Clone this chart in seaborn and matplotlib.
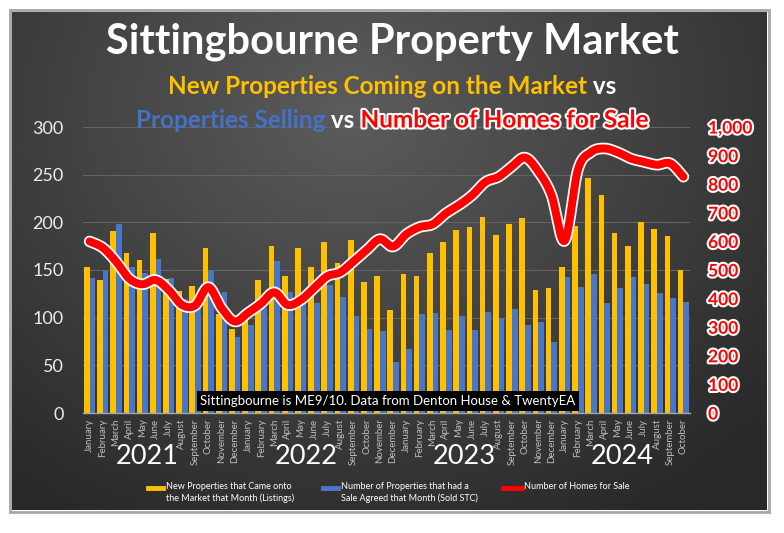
import numpy as np
import pandas as pd
import matplotlib
matplotlib.use("Agg")
import matplotlib.pyplot as plt
import matplotlib.patheffects as pe
import matplotlib.transforms as mtrans
from matplotlib.lines import Line2D
from matplotlib.patches import Rectangle
from matplotlib.offsetbox import TextArea, HPacker, AnnotationBbox
import seaborn as sns

# --- data (Jan 2021 .. Oct 2024) ---
month_names = ["January", "February", "March", "April", "May", "June", "July",
               "August", "September", "October", "November", "December"]
year_labels = ["2021", "2022", "2023", "2024"]

listings = [153, 140, 191, 168, 160, 189, 141, 128, 133, 173, 104, 88,
            105, 140, 175, 144, 173, 153, 179, 157, 181, 137, 144, 108,
            146, 144, 168, 179, 192, 195, 206, 187, 198, 205, 129, 131,
            153, 196, 247, 229, 189, 175, 200, 193, 186, 150]
sold_stc = [142, 149, 198, 153, 147, 162, 142, 120, 110, 150, 127, 80,
            92, 110, 159, 127, 117, 115, 134, 122, 102, 88, 86, 54,
            67, 104, 105, 87, 102, 87, 106, 100, 109, 92, 95, 74,
            143, 132, 146, 115, 131, 143, 135, 126, 121, 116]
homes_for_sale = [600, 578, 530, 470, 450, 465, 430, 378, 376, 440, 367, 320,
                  350, 383, 422, 378, 395, 436, 478, 492, 530, 570, 608, 582,
                  625, 650, 660, 698, 727, 762, 808, 826, 862, 893, 845, 762,
                  602, 850, 912, 925, 912, 890, 878, 868, 873, 826]

lbl_listings = "New Properties that Came onto\nthe Market that Month (Listings)"
lbl_sold = "Number of Properties that had a\nSale Agreed that Month (Sold STC)"
lbl_homes = "Number of Homes for Sale"

GOLD = "#FFC000"
BLUE = "#4A76C9"
RED = "#FF0000"

month_labels = (month_names * 4)[:len(listings)]
n = len(listings)

df = pd.DataFrame({"idx": range(n), "Listings": listings, "Sold": sold_stc})
long_df = df.melt(id_vars="idx", var_name="series", value_name="value")


def smooth(xs, ys, steps=24):
    # Excel style smoothed line (uniform Catmull-Rom through the points)
    x = np.asarray(xs, float)
    y = np.asarray(ys, float)
    px = np.concatenate([[x[0]], x, [x[-1]]])
    py = np.concatenate([[y[0]], y, [y[-1]]])
    out_x, out_y = [], []
    t = np.linspace(0, 1, steps, endpoint=False)
    for i in range(1, len(px) - 2):
        for p, out in ((px, out_x), (py, out_y)):
            p0, p1, p2, p3 = p[i - 1], p[i], p[i + 1], p[i + 2]
            out.extend(0.5 * (2 * p1 + (-p0 + p2) * t
                              + (2 * p0 - 5 * p1 + 4 * p2 - p3) * t ** 2
                              + (-p0 + 3 * p1 - 3 * p2 + p3) * t ** 3))
    out_x.append(x[-1])
    out_y.append(y[-1])
    return np.array(out_x), np.array(out_y)


plt.rcParams["font.family"] = ["Lato", "DejaVu Sans"]

W, H = 784, 533
fig = plt.figure(figsize=(W / 100, H / 100), dpi=100)
fig.patch.set_facecolor("white")

# dark gradient panel
bg = fig.add_axes([12 / W, 1 - 510 / H, (767 - 12) / W, (510 - 12) / H])
gy, gx = np.mgrid[0:1:300j, 0:1:460j]
d = np.clip(np.sqrt(((gx - 0.45) / 0.75) ** 2 + ((gy - 0.2) / 0.95) ** 2), 0, 1)
c_in = np.array([0x5c, 0x5c, 0x5c]) / 255
c_out = np.array([0x28, 0x28, 0x28]) / 255
img = c_in[None, None, :] * (1 - d[..., None]) + c_out[None, None, :] * d[..., None]
bg.imshow(img, extent=[0, 1, 0, 1], aspect="auto", origin="upper")
bg.axis("off")
fig.add_artist(Rectangle((10 / W, 1 - 512 / H), (769 - 10) / W, (512 - 10) / H,
                         fill=False, edgecolor="#a6a6a6", lw=2,
                         transform=fig.transFigure))

# main axes
ax = fig.add_axes([83 / W, 1 - 413 / H, (690 - 83) / W, (413 - 127) / H])
ax.set_facecolor("none")
sns.barplot(data=long_df, x="idx", y="value", hue="series",
            palette=[GOLD, BLUE], width=0.86, saturation=1,
            legend=False, ax=ax)
ax.set_ylim(0, 300)
ax.set_yticks(range(0, 301, 50))
ax.yaxis.grid(True, color="#636363", lw=0.8)
ax.set_axisbelow(True)
for s in ["top", "left", "right"]:
    ax.spines[s].set_visible(False)
ax.spines["bottom"].set_color("#a6a6a6")
ax.spines["bottom"].set_linewidth(1)
ax.set_xlabel("")
ax.set_ylabel("")
ax.set_xticks(range(n))
ax.set_xticklabels(month_labels, rotation=90, fontsize=7, color="#bfbfbf")
ax.tick_params(axis="x", length=0, pad=4)
ax.tick_params(axis="y", length=0, pad=14, labelsize=13, labelcolor="#ececec")

ax2 = ax.twinx()
sx, sy = smooth(range(n), homes_for_sale)
ax2.plot(sx, sy, color=RED, lw=5.8, solid_capstyle="round",
         path_effects=[pe.Stroke(linewidth=8.3, foreground="white"), pe.Normal()])
ax2.set_ylim(0, 1000)
ax2.set_yticks(range(0, 1001, 100))
ax2.set_yticklabels([f"{v:,}" for v in range(0, 1001, 100)])
ax2.tick_params(axis="y", length=0, pad=13, labelsize=12.5, labelcolor=RED)
for t in ax2.get_yticklabels():
    t.set_fontweight("bold")
    t.set_path_effects([pe.withStroke(linewidth=3, foreground="white")])
for s in ax2.spines.values():
    s.set_visible(False)
ax.set_xlim(-0.5, n - 0.5)

# year labels under the month names
yr_tr = mtrans.blended_transform_factory(ax.transData, fig.transFigure)
for k, yr in enumerate(year_labels):
    ax.text(4.4 + 12 * k, 1 - 456 / H, yr, transform=yr_tr, ha="center",
            va="center", fontsize=19.5, color="white")

# source note
ax.text(0.502, 0.042, "Sittingbourne is ME9/10. Data from Denton House & TwentyEA",
        transform=ax.transAxes, ha="center", va="center", fontsize=9.5,
        color="white", zorder=5,
        bbox=dict(facecolor="black", edgecolor="none", pad=2.6))

# titles
fig.text(0.5, 1 - 42 / H, "Sittingbourne Property Market", ha="center",
         va="center", fontsize=30, fontweight="bold", color="white")


def colored_line(parts, y):
    boxes = []
    for txt, col, outline in parts:
        props = dict(color=col, fontsize=17.5, fontweight="bold")
        if outline:
            props["path_effects"] = [pe.withStroke(linewidth=3, foreground="white")]
        boxes.append(TextArea(txt, textprops=props))
    pack = HPacker(children=boxes, align="baseline", pad=0, sep=0)
    ab = AnnotationBbox(pack, (0.5, y), xycoords="figure fraction",
                        frameon=False, box_alignment=(0.5, 0.5))
    fig.add_artist(ab)


colored_line([("New Properties Coming on the Market", GOLD, False),
              (" vs", "white", False)], 1 - 86 / H)
colored_line([("Properties Selling", "#4472C4", False),
              (" vs ", "white", False),
              ("Number of Homes for Sale", RED, True)], 1 - 120 / H)

# legend
legend_items = [(148, 163, GOLD, 166, lbl_listings),
                (323, 338, BLUE, 341, lbl_sold),
                (503, 522, RED, 524, lbl_homes)]
for x0, x1, col, tx, lab in legend_items:
    fig.add_artist(Line2D([x0 / W, x1 / W], [1 - 488 / H] * 2, color=col, lw=3.5,
                          transform=fig.transFigure))
    fig.text(tx / W, 1 - 482 / H, lab, ha="left", va="top", fontsize=6.5,
             color="white", linespacing=1.35)

fig.savefig("out.png", dpi=100, facecolor=fig.get_facecolor())
